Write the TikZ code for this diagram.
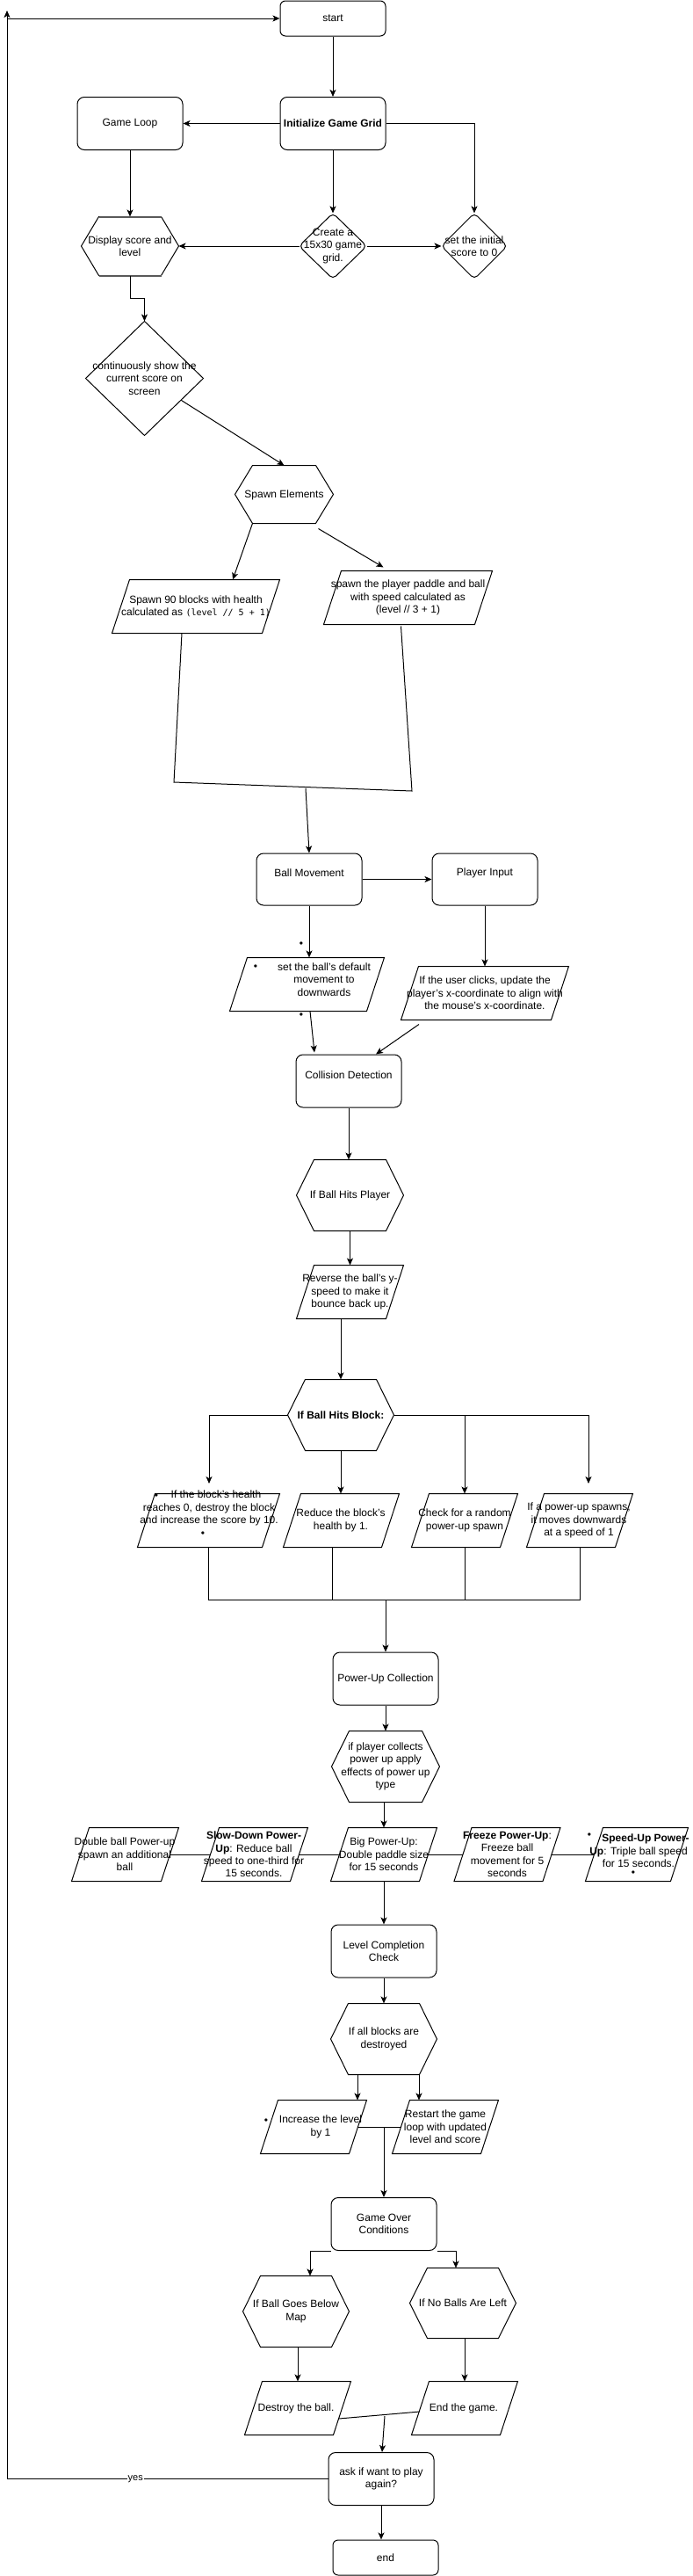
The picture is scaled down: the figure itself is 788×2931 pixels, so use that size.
\documentclass[tikz,border=0pt]{standalone}
\usepackage{fontspec}
\setmainfont{Liberation Sans}
\newfontfamily\monof{DejaVu Sans Mono}
\usetikzlibrary{arrows.meta,calc}
\newcommand\fs{\fontsize{12}{14.4}\selectfont}
\newcommand\ParaShape[1]{\draw ([xshift=-10pt]#1.south west) -- ([xshift=-10pt]#1.south east) -- ([xshift=10pt]#1.north east) -- ([xshift=10pt]#1.north west) -- cycle;}
\newcommand\HexShape[1]{\draw (#1.west) -- ([xshift=20pt]#1.north west) -- ([xshift=-20pt]#1.north east) -- (#1.east) -- ([xshift=-20pt]#1.south east) -- ([xshift=20pt]#1.south west) -- cycle;}
\newcommand\DiaShape[2][]{\draw[#1] (#2.north) -- (#2.east) -- (#2.south) -- (#2.west) -- cycle;}
\begin{document}
\begin{tikzpicture}[x=1pt,y=-1pt,line width=1pt,
  arr/.style={-{Stealth[length=8pt,width=7pt,inset=2pt]}},
  txt/.style={inner sep=0pt,align=center,font=\fs},
  shp/.style={inner sep=0pt,draw=none},
  rbox/.style={draw,rounded corners=8pt,minimum width=120pt,minimum height=60pt,inner sep=0pt,align=center,font=\fs},
  dotn/.style={inner sep=0pt,font=\fs},
  yeslbl/.style={fill=white,inner sep=1pt,font=\fontsize{11}{13}\selectfont}]
\fill[white] (0,0) rectangle (788,2931);
\useasboundingbox (0,0) rectangle (788,2931);

% ---------- top part
\node[rbox,rounded corners=6pt,minimum height=40pt] (start) at (379,21) {start};
\node[rbox,font=\fs\bfseries] (init) at (379,140.5) {Initialize Game Grid};
\node[rbox] (loop) at (148,140.5) {Game Loop};

\node[shp,minimum width=76pt,minimum height=74pt] (create) at (379,280) {};
\DiaShape[rounded corners=5pt]{create}
\node[txt] (create-t) at (379,280) {Create a\\15x30 game\\grid.};

\node[shp,minimum width=74pt,minimum height=74pt] (setsc) at (540,280) {};
\DiaShape[rounded corners=5pt]{setsc}
\node[txt] (setsc-t) at (540,280) {set the initial\\score to 0};

\node[shp,minimum width=110pt,minimum height=66pt] (disp) at (148,280) {};
\HexShape{disp}
\draw[line width=2pt,black!65] ([xshift=20pt]disp.north west) -- ([xshift=-20pt]disp.north east);
\draw[line width=2pt,black!65] ([xshift=20pt]disp.south west) -- ([xshift=-20pt]disp.south east);
\node[txt] (disp-t) at (148,280) {Display score and\\level};

\node[shp,minimum width=133pt,minimum height=129pt] (cont) at (164.5,430.5) {};
\DiaShape{cont}
\node[txt] (cont-t) at (164.5,430.5) {continuously show the\\current score on\\screen};

\draw[arr] (start.south) -- (init.north);
\draw[arr] (init.west) -- (loop.east);
\draw[arr] (init.south) -- (create.north);
\draw[arr] (init.east) -| (setsc.north);
\draw[arr] (create.west) -- (disp.east);
\draw[arr] (create.east) -- (setsc.west);
\draw[arr] (loop.south) -- (disp.north);
\draw[arr] (disp.south) -- ++(0,26) -| (cont.north);

% ---------- spawn
\node[shp,minimum width=111pt,minimum height=65pt] (spawn) at (323.5,562.5) {};
\HexShape{spawn}
\node[txt] (spawn-t) at (323.5,563) {Spawn Elements};
\draw[arr] ($(cont.east)!0.38!(cont.south)$) -- (spawn.north);

\node[shp,minimum width=170pt,minimum height=60pt] (blocks) at (223,690) {};
\ParaShape{blocks}
\node[txt] (blocks-t) at (223,690) {Spawn 90 blocks with health\\calculated as {\monof\fontsize{10}{12}\selectfont(level // 5 + 1)}};

\node[shp,minimum width=171pt,minimum height=60pt] (paddle) at (464.5,680) {};
\ParaShape{paddle}
\node[txt] (paddle-t) at (464.5,680) {spawn the player paddle and ball\\with speed calculated as\\(level // 3 + 1)};

\draw[arr] ([xshift=20pt]spawn.south west) -- ($(blocks.north)+(42,0)$);
\draw[arr] ($(spawn.south east)+(-17,6)$) -- ($(paddle.north)+(-28,-4)$);

\coordinate (mA) at (198,890);
\coordinate (mB) at (469,900);
\coordinate (mC) at (348,897);
\draw ($(blocks.south)+(-16,0)$) -- (mA) -- (mB) -- ($(paddle.south)+(-8,2)$);

% ---------- movement
\node[rbox,minimum height=59pt] (ball) at (352,1000.5) {};
\node[txt] (ball-t) at (352,993) {Ball Movement};
\node[rbox,minimum height=59pt] (player) at (552,1000.5) {};
\node[txt] (player-t) at (552,993) {Player Input};
\draw[arr] (mC) -- (ball.north);
\draw[arr] (ball.east) -- (player.west);

\node[shp,minimum width=155pt,minimum height=60pt] (setdef) at (349.5,1120) {};
\ParaShape{setdef}
\node[txt] (setdef-t) at (369,1114.5) {set the ball's default\\movement to\\downwards};
\node[dotn] (dotA) at (291,1101) {•};
\node[dotn] (dotB) at (343,1075) {•};
\node[dotn] (dotC) at (343,1156) {•};

\node[shp,minimum width=170pt,minimum height=60pt] (click) at (552,1130) {};
\ParaShape{click}
\node[txt] (click-t) at (552,1130) {If the user clicks, update the\\player's x-coordinate to align with\\the mouse's x-coordinate.};

\node[rbox] (coll) at (397,1230) {};
\node[txt] (coll-t) at (397,1223) {Collision Detection};

\draw[arr] (ball.south) -- (ball.south |- setdef.north);
\draw[arr] (player.south) -- (click.north);
\draw[arr] ($(setdef.south)+(3.5,0)$) -- ($(coll.north)+(-39,-2)$);
\draw[arr] ($(click.south)+(-75,5)$) -- ($(coll.north)+(31,0)$);

% ---------- hits
\node[shp,minimum width=121pt,minimum height=80pt] (hitp) at (398.5,1360) {};
\HexShape{hitp}
\node[txt] (hitp-t) at (398.5,1360) {If Ball Hits Player};
\draw[arr] (coll.south) -- (coll.south |- hitp.north);

\node[shp,minimum width=101pt,minimum height=60pt] (rev) at (398.5,1470) {};
\ParaShape{rev}
\node[txt] (rev-t) at (398.5,1470) {Reverse the ball's y-\\speed to make it\\bounce back up.};
\draw[arr] (hitp.south) -- (rev.north);

\node[shp,minimum width=120pt,minimum height=80pt] (hitb) at (388,1610) {};
\HexShape{hitb}
\node[txt,font=\fs\bfseries] (hitb-t) at (388,1610) {If Ball Hits Block:};
\draw[arr] (hitb.north |- rev.south) -- (hitb.north);

\node[shp,minimum width=141pt,minimum height=60pt] (d1) at (237.5,1730) {};
\ParaShape{d1}
\node[txt] (d1-t) at (238,1716) {\hspace*{16pt}If the block's health\\reaches 0, destroy the block\\and increase the score by 10.};
\node[dotn] (dotD) at (178,1703) {•};
\node[dotn] (dotE) at (231,1746) {•};

\node[shp,minimum width=111pt,minimum height=60pt] (d2) at (388.5,1730) {};
\ParaShape{d2}
\node[txt] (d2-t) at (388,1730) {Reduce the block's\\health by 1.};

\node[shp,minimum width=100pt,minimum height=60pt] (d3) at (529,1730) {};
\ParaShape{d3}
\node[txt] (d3-t) at (529,1730) {Check for a random\\power-up spawn};

\node[shp,minimum width=100pt,minimum height=60pt] (d4) at (660,1730) {};
\ParaShape{d4}
\node[txt] (d4-t) at (659,1730) {If a power-up spawns,\\it moves downwards\\at a speed of 1};

\coordinate (b1) at (238,1688);
\coordinate (b4) at (670,1688);
\draw[arr] (hitb.west) -| (b1);
\draw[arr] (hitb.east) -| (b4);
\draw[arr] (hitb.south) -- (hitb.south |- d2.north);
\draw[arr] (hitb.east -| d3.north) -- (d3.north);

\coordinate (mg) at (439,1820);
\draw (d1.south) |- (d4.south |- mg) -- (d4.south);
\draw ($(d2.south)+(-10.5,0)$) -- ++(0,60);
\draw (d3.south) -- (d3.south |- mg);

% ---------- power-ups
\node[rbox] (puc) at (439,1910) {Power-Up Collection};
\draw[arr] (mg) -- (puc.north);

\node[shp,minimum width=122pt,minimum height=80pt] (pwr) at (439,2010) {};
\HexShape{pwr}
\node[txt] (pwr-t) at (439,2010) {if player collects\\power up apply\\effects of power up\\type};
\draw[arr] (puc.south) -- (pwr.north);

\node[shp,minimum width=101pt,minimum height=60pt] (p1) at (142.5,2110) {};
\ParaShape{p1}
\node[txt] (p1-t) at (142,2110) {Double ball Power-up\\spawn an additional\\ball};

\node[shp,minimum width=100pt,minimum height=60pt] (p2) at (290,2110) {};
\ParaShape{p2}
\node[txt] (p2-t) at (289,2110) {\textbf{Slow-Down Power-}\\\textbf{Up}: Reduce ball\\speed to one-third for\\15 seconds.};

\node[shp,minimum width=100pt,minimum height=60pt] (p3) at (437,2110) {};
\ParaShape{p3}
\node[txt] (p3-t) at (437,2110) {Big Power-Up:\\Double paddle size\\for 15 seconds};

\node[shp,minimum width=100pt,minimum height=60pt] (p4) at (577.5,2110) {};
\ParaShape{p4}
\node[txt] (p4-t) at (577.5,2110) {\textbf{Freeze Power-Up}:\\Freeze ball\\movement for 5\\seconds};

\node[shp,minimum width=96pt,minimum height=60pt] (p5) at (725,2110) {};
\ParaShape{p5}
\node[txt] (p5-t) at (727,2106) {\hspace*{16pt}\textbf{Speed-Up Power-}\\\textbf{Up}: Triple ball speed\\for 15 seconds.};
\node[dotn] (dotF) at (671,2089) {•};
\node[dotn] (dotG) at (721,2132) {•};

\draw[arr] (p3.north |- pwr.south) -- (p3.north);
\draw (p1.east) -- (p2.west);
\draw (p2.east) -- (p3.west);
\draw (p3.east) -- (p4.west);
\draw (p4.east) -- (p5.west);

% ---------- level completion
\node[rbox] (lvl) at (437,2220) {Level Completion\\Check};
\draw[arr] (p3.south) -- (lvl.north);

\node[shp,minimum width=120pt,minimum height=80pt] (allb) at (437,2320) {};
\HexShape{allb}
\node[txt] (allb-t) at (437,2320) {If all blocks are\\destroyed};
\draw[arr] (lvl.south) -- (allb.north);

\node[shp,minimum width=100pt,minimum height=60pt] (inc) at (357,2420) {};
\ParaShape{inc}
\node[txt] (inc-t) at (365,2420) {Increase the level\\by 1};
\node[dotn] (dotH) at (303,2414) {•};

\node[shp,minimum width=100pt,minimum height=60pt] (rst) at (507,2420) {};
\ParaShape{rst}
\node[txt] (rst-t) at (507,2420) {Restart the game\\loop with updated\\level and score};

\draw[arr] ($(allb.south)+(-30,0)$) -- ($(inc.north)+(50,0)$);
\draw[arr] ($(allb.south)+(40,0)$) -- ($(rst.north)+(-30,0)$);
\draw (inc.east) -- (rst.west);

% ---------- game over
\node[rbox] (go) at (437,2530.5) {Game Over\\Conditions};
\draw[arr] (go.north |- inc.east) -- (go.north);

\node[shp,minimum width=120pt,minimum height=80pt] (below) at (337,2630) {};
\HexShape{below}
\node[txt] (below-t) at (337,2630) {If Ball Goes Below\\Map};

\node[shp,minimum width=120pt,minimum height=79pt] (nob) at (527,2620.5) {};
\HexShape{nob}
\node[txt] (nob-t) at (527,2620) {If No Balls Are Left};

\draw[arr] (go.south west) -| ($(below.north)+(16,0)$);
\draw[arr] (go.south east) -| ($(nob.north)+(-8,0)$);

\node[shp,minimum width=100pt,minimum height=60pt] (dball) at (339,2740) {};
\ParaShape{dball}
\node[txt] (dball-t) at (337,2740) {Destroy the ball.};

\node[shp,minimum width=100pt,minimum height=60pt] (endg) at (529,2740) {};
\ParaShape{endg}
\node[txt] (endg-t) at (528,2740) {End the game.};

\draw[arr] (dball.north |- below.south) -- (dball.north);
\draw[arr] (endg.north |- nob.south) -- (endg.north);
\draw ($(dball.east)+(-4,12)$) -- ($(endg.west)+(-1,4)$);

\node[rbox] (ask) at (434,2820.5) {ask if want to play\\again?};
\coordinate (mg2) at (438,2749);
\draw[arr] (mg2) -- ($(ask.north)+(1,0)$);

\node[rbox,rounded corners=6pt,minimum height=40pt] (endn) at (439,2910) {end};
\draw[arr] (ask.south) -- (ask.south |- endn.north);

% ---------- loop back
\coordinate (lb) at (8,2820.5);
\coordinate (lt) at (8,12);
\coordinate (lh) at (8,21);
\draw[arr] (ask.west) -- node[yeslbl,pos=0.6] (yes) {yes} (lb) -- (lt);
\draw[arr] (lh) -- (start.west);
\end{tikzpicture}
\end{document}
